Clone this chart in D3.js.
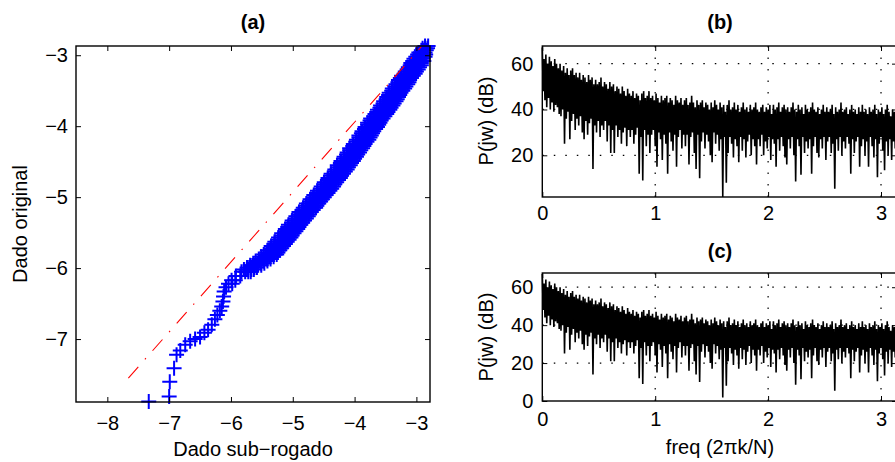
<!DOCTYPE html>
<html>

<head>
    <meta charset="utf-8">
    <title>QQ plot e espectros</title>
    <script src="https://d3js.org/d3.v7.min.js"></script>
    <style>
        body {
            margin: 0;
            background: #fff;
            overflow: hidden;
        }

        text {
            font-family: "Liberation Sans", Arial, Helvetica, sans-serif;
            fill: #000;
        }
    </style>
</head>

<body>
    <div id="chart"></div>

    <script>
        const width = 895, height = 462

        // (a) QQ plot: quantized levels of the original data and the sub-rogado values at each level
        const qqOrig = [-2.87, -2.90, -2.93, -2.96, -2.99, -3.02, -3.05, -3.08, -3.11, -3.14,
            -3.17, -3.20, -3.23, -3.26, -3.29, -3.32, -3.35, -3.38, -3.41, -3.44,
            -3.47, -3.50, -3.53, -3.56, -3.59, -3.62, -3.65, -3.68, -3.71, -3.74,
            -3.77, -3.80, -3.83, -3.86, -3.89, -3.92, -3.95, -3.98, -4.01, -4.04,
            -4.07, -4.10, -4.13, -4.16, -4.19, -4.22, -4.25, -4.28, -4.31, -4.34,
            -4.37, -4.40, -4.43, -4.46, -4.49, -4.52, -4.55, -4.58, -4.61, -4.64,
            -4.67, -4.70, -4.73, -4.76, -4.79, -4.82, -4.85, -4.88, -4.91, -4.94,
            -4.97, -5.00, -5.03, -5.06, -5.09, -5.12, -5.15, -5.18, -5.21, -5.24,
            -5.27, -5.30, -5.33, -5.36, -5.39, -5.42, -5.45, -5.48, -5.51, -5.54,
            -5.57, -5.60, -5.63, -5.66, -5.69, -5.72, -5.75, -5.78, -5.81, -5.84,
            -5.87, -5.90, -5.93, -5.96, -5.99, -6.02, -6.05, -6.11, -6.17, -6.22,
            -6.27, -6.33, -6.40, -6.47, -6.54, -6.60, -6.66, -6.72, -6.80, -6.87,
            -6.91, -6.97, -7.00, -7.03, -7.08, -7.16, -7.22, -7.41, -7.60, -7.81, -7.88]
        const qqSub = [
            [-2.86, -2.81], [-2.90, -2.86, -2.82], [-2.92, -2.88, -2.84], [-2.96, -2.91, -2.86],
            [-2.98, -2.93, -2.88, -2.85], [-3.01, -2.96, -2.90, -2.86], [-3.04, -2.99, -2.94, -2.89],
            [-3.06, -3.00, -2.94, -2.88], [-3.09, -3.03, -2.97, -2.92], [-3.10, -3.04, -2.98, -2.92],
            [-3.13, -3.07, -3.01, -2.95], [-3.15, -3.09, -3.03, -2.97], [-3.18, -3.12, -3.06, -3.00],
            [-3.20, -3.14, -3.08, -3.02], [-3.24, -3.18, -3.11, -3.05], [-3.26, -3.20, -3.14, -3.08],
            [-3.29, -3.23, -3.17, -3.11], [-3.30, -3.24, -3.18, -3.12], [-3.33, -3.27, -3.21, -3.14],
            [-3.35, -3.29, -3.23, -3.17], [-3.39, -3.32, -3.26, -3.19], [-3.40, -3.34, -3.28, -3.22],
            [-3.44, -3.37, -3.31, -3.25], [-3.45, -3.39, -3.33, -3.27], [-3.48, -3.42, -3.36, -3.29],
            [-3.49, -3.43, -3.37, -3.31], [-3.53, -3.46, -3.40, -3.33], [-3.54, -3.48, -3.42, -3.36],
            [-3.58, -3.51, -3.45, -3.38], [-3.59, -3.53, -3.47, -3.41], [-3.63, -3.56, -3.50, -3.43],
            [-3.64, -3.58, -3.52, -3.46], [-3.67, -3.61, -3.55, -3.48], [-3.69, -3.63, -3.57, -3.51],
            [-3.74, -3.67, -3.61, -3.54], [-3.75, -3.69, -3.63, -3.57], [-3.79, -3.72, -3.66, -3.59],
            [-3.79, -3.73, -3.67, -3.61], [-3.83, -3.76, -3.70, -3.63], [-3.84, -3.78, -3.72, -3.66],
            [-3.88, -3.81, -3.75, -3.69], [-3.89, -3.83, -3.77, -3.71], [-3.93, -3.86, -3.80, -3.73],
            [-3.93, -3.87, -3.81, -3.75], [-3.97, -3.90, -3.84, -3.77], [-3.98, -3.92, -3.86, -3.80],
            [-4.02, -3.95, -3.89, -3.83], [-4.03, -3.97, -3.91, -3.85], [-4.08, -4.00, -3.94, -3.87],
            [-4.08, -4.02, -3.96, -3.90], [-4.12, -4.05, -3.99, -3.92], [-4.13, -4.07, -4.01, -3.95],
            [-4.17, -4.10, -4.04, -3.97], [-4.18, -4.12, -4.06, -4.00], [-4.22, -4.15, -4.09, -4.02],
            [-4.23, -4.17, -4.11, -4.05], [-4.28, -4.20, -4.14, -4.07], [-4.28, -4.22, -4.16, -4.10],
            [-4.32, -4.25, -4.19, -4.12], [-4.33, -4.27, -4.21, -4.15], [-4.38, -4.31, -4.25, -4.18],
            [-4.39, -4.33, -4.27, -4.21], [-4.43, -4.36, -4.30, -4.23], [-4.44, -4.38, -4.32, -4.26],
            [-4.49, -4.42, -4.36, -4.29], [-4.50, -4.44, -4.38, -4.32], [-4.54, -4.47, -4.41, -4.34],
            [-4.55, -4.49, -4.43, -4.37], [-4.60, -4.53, -4.47, -4.40], [-4.61, -4.55, -4.49, -4.43],
            [-4.66, -4.59, -4.53, -4.46], [-4.67, -4.61, -4.55, -4.49], [-4.72, -4.65, -4.59, -4.52],
            [-4.73, -4.67, -4.61, -4.55], [-4.78, -4.71, -4.65, -4.58], [-4.79, -4.73, -4.67, -4.61],
            [-4.83, -4.76, -4.70, -4.63], [-4.85, -4.79, -4.73, -4.67], [-4.90, -4.83, -4.77, -4.70],
            [-4.91, -4.85, -4.79, -4.73], [-4.95, -4.88, -4.82, -4.75], [-4.96, -4.90, -4.84, -4.78],
            [-5.01, -4.94, -4.88, -4.81], [-5.02, -4.96, -4.90, -4.84], [-5.07, -5.00, -4.94, -4.87],
            [-5.08, -5.02, -4.96, -4.90], [-5.12, -5.05, -4.99, -4.92], [-5.13, -5.07, -5.01, -4.95],
            [-5.18, -5.11, -5.05, -4.98], [-5.19, -5.13, -5.07, -5.01], [-5.23, -5.16, -5.10, -5.03],
            [-5.24, -5.18, -5.12, -5.06], [-5.29, -5.22, -5.16, -5.09], [-5.30, -5.24, -5.18, -5.12],
            [-5.35, -5.28, -5.22, -5.15], [-5.36, -5.30, -5.24, -5.18], [-5.41, -5.34, -5.28, -5.21],
            [-5.42, -5.36, -5.30, -5.24], [-5.47, -5.40, -5.33, -5.26], [-5.51, -5.44, -5.38, -5.31],
            [-5.55, -5.48, -5.42, -5.36], [-5.60, -5.53, -5.47, -5.41], [-5.64, -5.57, -5.51, -5.46],
            [-5.69, -5.62, -5.56, -5.51], [-5.74, -5.68, -5.62, -5.58], [-5.79, -5.72, -5.67, -5.63],
            [-5.83, -5.77, -5.72, -5.68], [-5.92, -5.85], [-5.99, -5.93], [-6.04, -5.98],
            [-6.08], [-6.11], [-6.12], [-6.13], [-6.15], [-6.18], [-6.22], [-6.26], [-6.31], [-6.37],
            [-6.43], [-6.50], [-6.58], [-6.66], [-6.74], [-6.82], [-6.88], [-6.92], [-6.99], [-7.00], [-7.33]]
        // reference line (dash-dot)
        const refSub = [-7.66, -2.92]
        const refOrig = [-7.55, -2.88]
        const qqXTicks = [-8, -7, -6, -5, -4, -3]
        const qqYTicks = [-7, -6, -5, -4, -3]

        // (b)/(c) power spectrum, alternating local maxima and minima across the band
        const psdHigh = [67, 62, 64, 60, 63, 61, 59, 62, 60, 58,
            60, 57, 59, 56, 58, 55, 57, 58, 55, 56,
            54, 56, 53, 55, 54, 52, 55, 53, 54, 51,
            53, 51, 52, 54, 50, 52, 51, 49, 52, 50,
            51, 48, 50, 49, 47, 50, 48, 46, 49, 47,
            46, 48, 45, 47, 46, 44, 47, 48, 45, 46,
            48, 45, 46, 44, 47, 45, 43, 46, 44, 45,
            46, 43, 45, 44, 42, 46, 44, 43, 45, 42,
            44, 45, 42, 43, 46, 43, 41, 44, 42, 43,
            44, 41, 43, 42, 40, 43, 41, 44, 42, 40,
            43, 41, 42, 39, 42, 44, 40, 41, 43, 40,
            42, 39, 41, 43, 40, 41, 39, 42, 40, 41,
            43, 40, 39, 41, 42, 39, 41, 40, 42, 38,
            42, 40, 41, 43, 39, 41, 42, 40, 41, 39,
            41, 43, 40, 39, 42, 40, 41, 38, 42, 40,
            39, 41, 43, 40, 39, 41, 38, 40, 42, 39,
            41, 39, 40, 42, 38, 41, 39, 40, 43, 39,
            40, 41, 38, 40, 42, 39, 40, 38, 41, 39,
            42, 39, 40, 38, 41, 39, 40, 42, 38, 40,
            39, 41, 38, 40, 42, 39, 37, 40, 39, 38]
        const psdLow = [48, 44, 41, 45, 40, 43, 39, 42, 41, 38,
            37, 40, 25, 36, 39, 27, 35, 38, 31, 36,
            33, 37, 30, 27, 35, 29, 34, 36, 14, 33,
            30, 35, 28, 33, 31, 35, 26, 33, 21, 31,
            21, 33, 28, 31, 25, 30, 32, 24, 31, 28,
            31, 25, 29, 32, 12, 28, 9, 31, 24, 29,
            21, 29, 31, 24, 15, 30, 27, 18, 29, 25,
            12, 30, 26, 22, 29, 15, 28, 31, 23, 29,
            24, 29, 16, 28, 30, 21, 14, 29, 10, 26,
            30, 23, 29, 26, 20, 17, 30, 25, 29, 22,
            27, 1.8, 28, 8, 21, 28, 25, 19, 27, 24,
            17, 28, 22, 27, 19, 26, 29, 20, 27, 24,
            16, 27, 24, 29, 20, 26, 23, 28, 18, 27,
            25, 15, 27, 22, 28, 24, 19, 16, 27, 23,
            28, 20, 8.6, 27, 24, 11.5, 28, 21, 26, 23,
            27, 12, 24, 28, 21, 19, 27, 23, 28, 18,
            26, 28, 21, 25, 5.4, 27, 22, 28, 20, 26,
            23, 28, 25, 12, 27, 21, 26, 28, 15, 24,
            27, 20, 26, 15, 28, 24, 19, 27, 10.4, 25,
            28, 22, 13.5, 26, 20, 27, 18, 26, 23, 28]
        const freqTicks = [0, 1, 2, 3]
        const dbTicksB = [20, 40, 60]
        const dbTicksC = [0, 20, 40, 60]

        const svg = d3.select("#chart")
            .append("svg")
            .attr("width", width)
            .attr("height", height)

        const fontSize = 20

        // box with inward ticks on all four sides
        const drawBox = (g, x, y, xTicks, yTicks, padX, padY) => {
            const [x0, x1] = x.range(), [y1, y0] = y.range()
            const style = (sel) => {
                sel.select(".domain").remove()
                sel.selectAll("line").attr("stroke", "#000").attr("stroke-width", 1)
                sel.selectAll("text").attr("font-size", fontSize).attr("font-family", null).attr("fill", "#000")
            }
            g.append("g").attr("transform", `translate(0,${y1})`)
                .call(d3.axisBottom(x).tickValues(xTicks).tickSize(-5).tickPadding(padX).tickFormat(d3.format("d")))
                .call(style)
            g.append("g").attr("transform", `translate(0,${y0})`)
                .call(d3.axisTop(x).tickValues(xTicks).tickSize(-5).tickFormat(""))
                .call(style)
            g.append("g").attr("transform", `translate(${x0},0)`)
                .call(d3.axisLeft(y).tickValues(yTicks).tickSize(-5).tickPadding(padY).tickFormat(d3.format("d")))
                .call(style)
            g.append("g").attr("transform", `translate(${x1},0)`)
                .call(d3.axisRight(y).tickValues(yTicks).tickSize(-5).tickFormat(""))
                .call(style)
            g.append("rect")
                .attr("x", x0).attr("y", y0)
                .attr("width", x1 - x0).attr("height", y1 - y0)
                .attr("fill", "none")
                .attr("stroke", "#000")
                .attr("stroke-width", 1.4)
        }

        const addTitle = (cx, cy, label) => {
            svg.append("text")
                .attr("x", cx).attr("y", cy)
                .attr("text-anchor", "middle")
                .attr("font-size", fontSize)
                .attr("font-weight", "bold")
                .text(label)
        }

        const addYLabel = (cx, cy, label) => {
            svg.append("text")
                .attr("transform", `translate(${cx},${cy}) rotate(-90)`)
                .attr("text-anchor", "middle")
                .attr("font-size", fontSize)
                .text(label)
        }

        const addXLabel = (cx, cy, label) => {
            svg.append("text")
                .attr("x", cx).attr("y", cy)
                .attr("text-anchor", "middle")
                .attr("font-size", fontSize)
                .text(label)
        }

        // ---------- (a) ----------
        const xA = d3.scaleLinear().domain([-8.507, -2.78]).range([76, 430])
        const yA = d3.scaleLinear().domain([-7.887, -2.87]).range([402, 46])
        const gA = svg.append("g")

        const qqPoints = []
        qqOrig.forEach((o, i) => qqSub[i].forEach(s => qqPoints.push({ sub: s, orig: o })))

        gA.selectAll(".qq")
            .data(qqPoints)
            .enter()
            .append("path")
            .attr("class", "qq")
            .attr("transform", d => `translate(${xA(d.sub)},${yA(d.orig)})`)
            .attr("d", "M-7.5,0H7.5M0,-7.5V7.5")
            .attr("stroke", "#0000ff")
            .attr("stroke-width", 2)
            .attr("fill", "none")

        gA.append("path")
            .datum(refSub.map((s, i) => [s, refOrig[i]]))
            .attr("d", d3.line().x(d => xA(d[0])).y(d => yA(d[1])))
            .attr("stroke", "#ff0000")
            .attr("stroke-width", 1.1)
            .attr("stroke-dasharray", "15,10,1.5,10")
            .attr("fill", "none")

        drawBox(gA, xA, yA, qqXTicks, qqYTicks, 14, 8)
        addTitle(253, 29, "(a)")
        addXLabel(253, 456, "Dado sub\u2212rogado")
        addYLabel(27, 224, "Dado original")

        // ---------- (b) and (c) ----------
        const psd = []
        psdHigh.forEach((h, k) => { psd.push(h); psd.push(psdLow[k]) })
        const freq = psd.map((d, i) => i * Math.PI / (psd.length - 1))

        const drawSpectrum = (top, bottom, yDomain, yTicks, padX) => {
            const x = d3.scaleLinear().domain([0, Math.PI]).range([542.3, 897])
            const y = d3.scaleLinear().domain(yDomain).range([bottom, top])
            const g = svg.append("g")

            // dotted grid
            g.selectAll(".vgrid")
                .data(freqTicks.filter(d => d > 0))
                .enter()
                .append("line")
                .attr("x1", d => x(d)).attr("x2", d => x(d))
                .attr("y1", top).attr("y2", bottom)
                .attr("stroke", "#000").attr("stroke-width", 1.2)
                .attr("stroke-dasharray", "1.5,10")
            g.selectAll(".hgrid")
                .data(yTicks.filter(d => d > yDomain[0]))
                .enter()
                .append("line")
                .attr("x1", x(0)).attr("x2", x(Math.PI))
                .attr("y1", d => y(d)).attr("y2", d => y(d))
                .attr("stroke", "#000").attr("stroke-width", 1.2)
                .attr("stroke-dasharray", "1.5,10")

            g.append("path")
                .datum(psd)
                .attr("d", d3.line().x((d, i) => x(freq[i])).y(d => y(d)))
                .attr("stroke", "#000")
                .attr("stroke-width", 1.6)
                .attr("stroke-linejoin", "bevel")
                .attr("fill", "none")

            drawBox(g, x, y, freqTicks, yTicks, padX, 9)
        }

        drawSpectrum(46, 197, [1.8, 67.7], dbTicksB, 9)
        drawSpectrum(273, 401, [0, 67.5], dbTicksC, 11)

        addTitle(720, 29, "(b)")
        addTitle(720, 258, "(c)")
        addYLabel(493, 121, "P(jw) (dB)")
        addYLabel(493, 337, "P(jw) (dB)")
        addXLabel(720, 454, "freq (2\u03c0k/N)")
    </script>

</body>

</html>
